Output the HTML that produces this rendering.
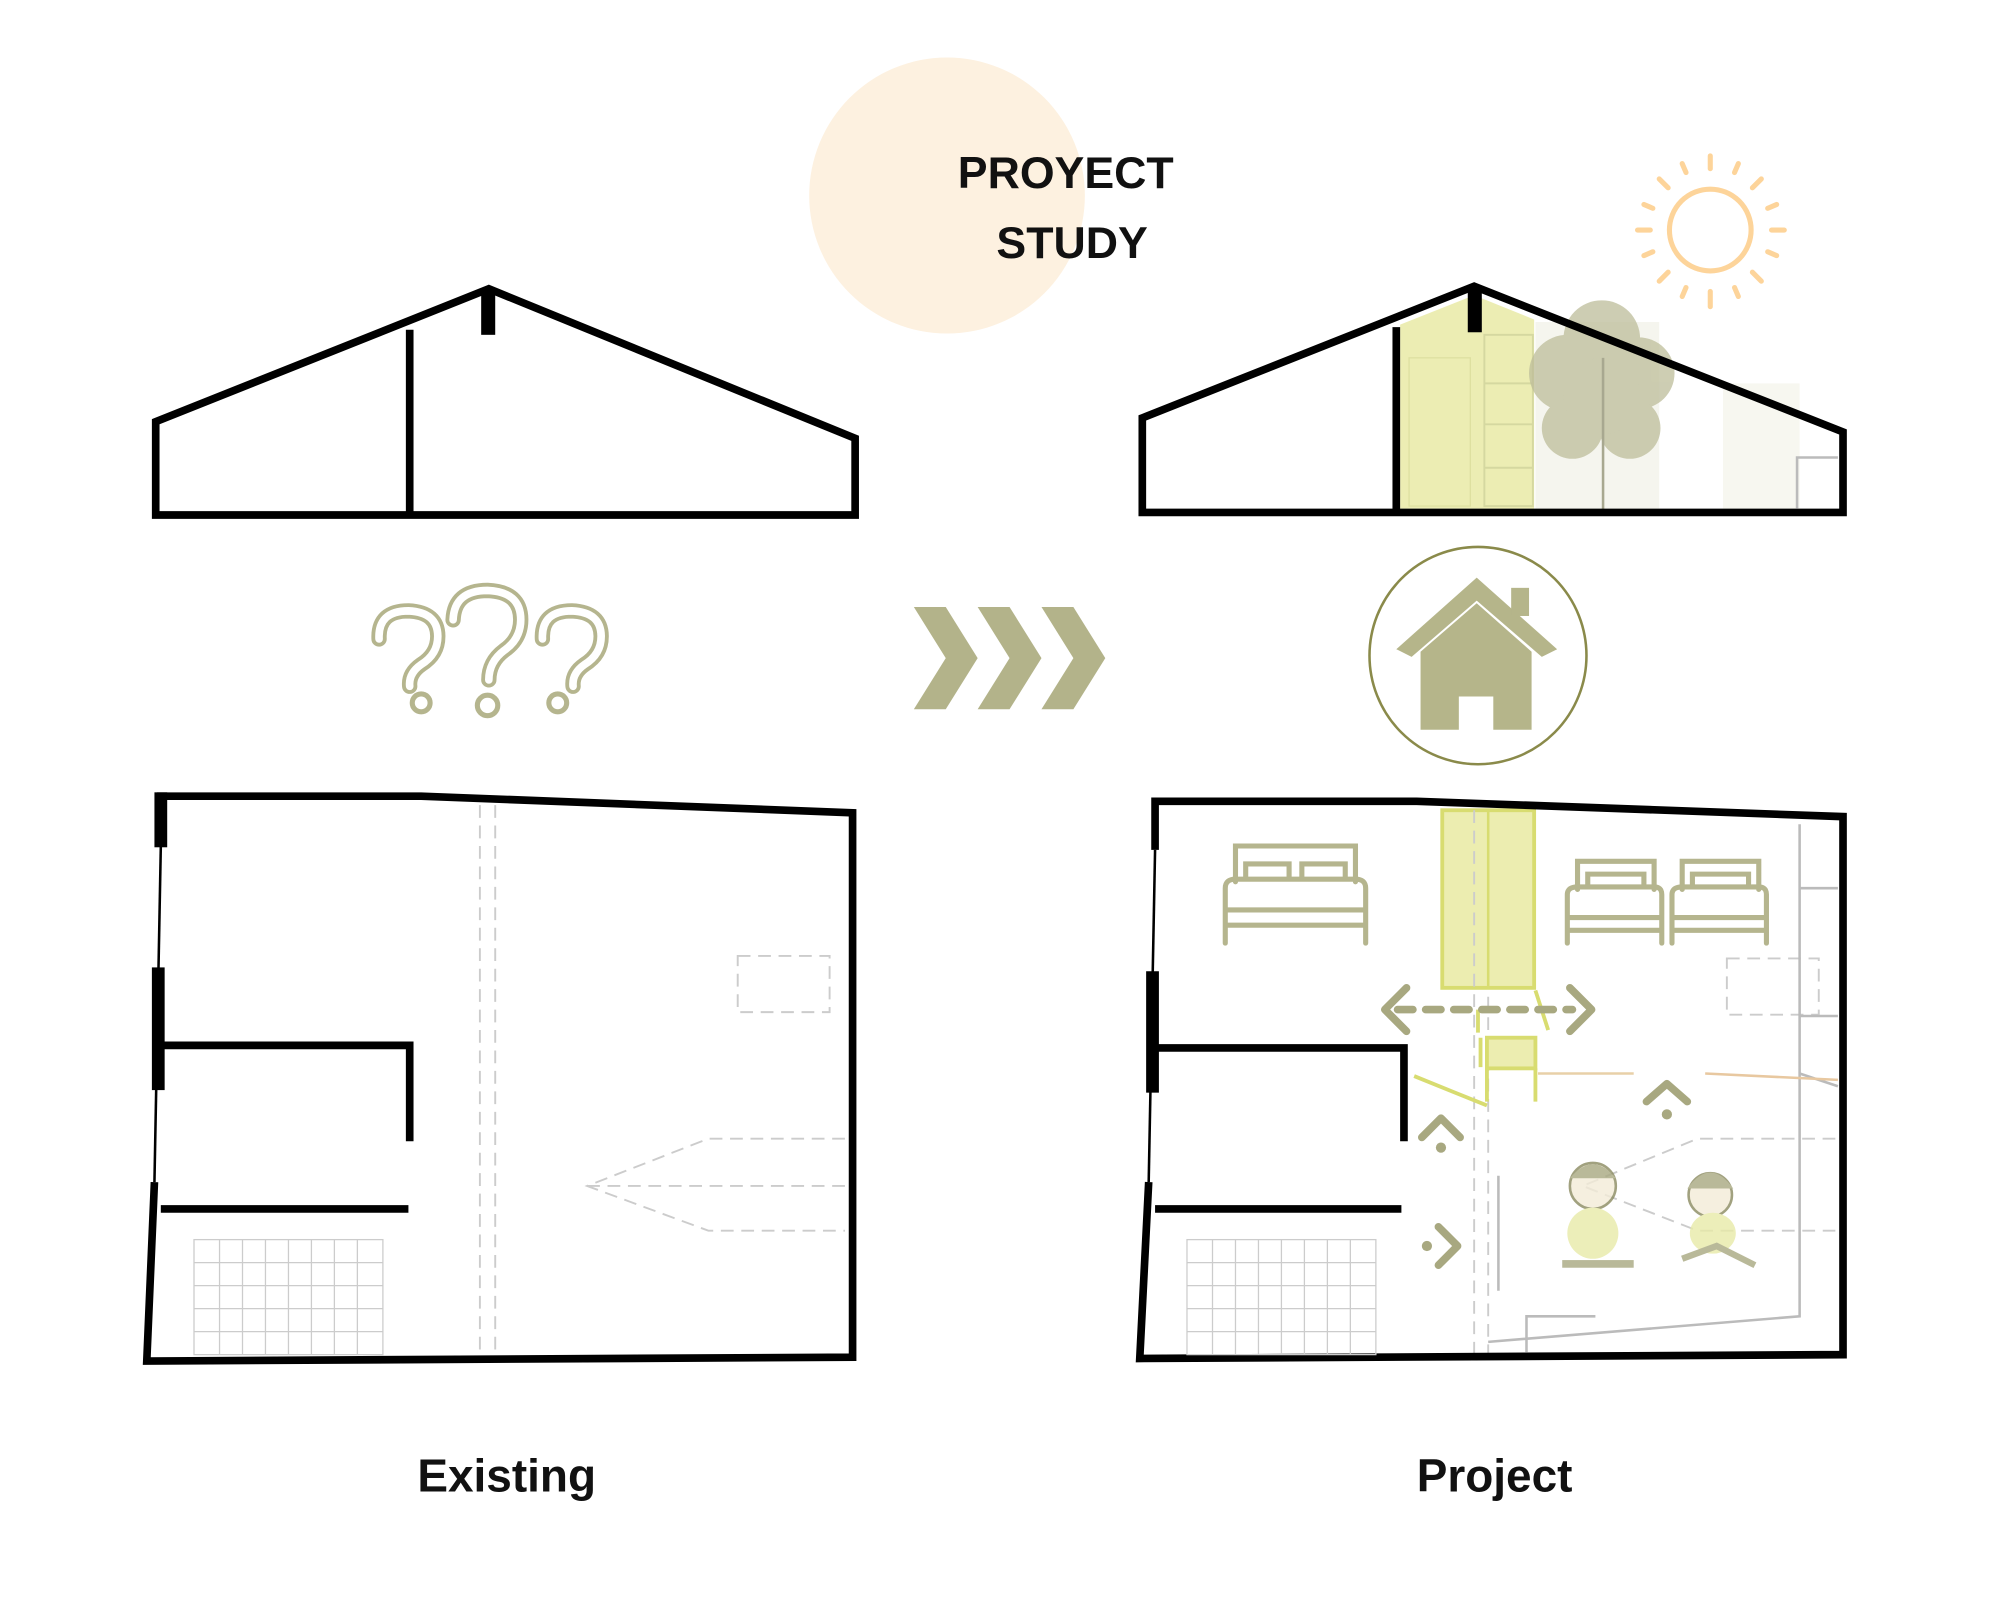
<!DOCTYPE html>
<html><head><meta charset="utf-8"><style>
html,body{margin:0;padding:0;background:#fff;}
svg{display:block;}
text{font-family:"Liberation Sans",sans-serif;font-weight:bold;}
</style></head><body>
<svg width="2000" height="1600" viewBox="0 0 1567 1252" preserveAspectRatio="none" xmlns="http://www.w3.org/2000/svg">
<rect width="1567" height="1252" fill="#fff"/>
<circle cx="742" cy="153" r="108" fill="#fdf1e0"/>
<text x="835" y="147" font-size="35" text-anchor="middle" fill="#111">PROYECT</text>
<text x="840" y="202" font-size="35" text-anchor="middle" fill="#111">STUDY</text>

<!-- Sun -->
<g stroke="#fdd49a" stroke-width="4" fill="none" stroke-linecap="round">
<circle cx="1340" cy="180" r="32"/>
<line x1="1340" y1="122" x2="1340" y2="132"/><line x1="1340" y1="228" x2="1340" y2="240"/>
<line x1="1283" y1="180" x2="1293" y2="180"/><line x1="1388" y1="180" x2="1398" y2="180"/>
<line x1="1300" y1="140" x2="1307" y2="147"/><line x1="1373" y1="213" x2="1380" y2="220"/>
<line x1="1380" y1="140" x2="1373" y2="147"/><line x1="1300" y1="220" x2="1307" y2="213"/>
<line x1="1318" y1="128" x2="1321" y2="135"/><line x1="1362" y1="128" x2="1359" y2="135"/>
<line x1="1288" y1="160" x2="1295" y2="163"/><line x1="1392" y1="160" x2="1385" y2="163"/>
<line x1="1288" y1="200" x2="1295" y2="197"/><line x1="1392" y1="200" x2="1385" y2="197"/>
<line x1="1318" y1="232" x2="1321" y2="225"/><line x1="1362" y1="232" x2="1359" y2="225"/>
</g>

<!-- Left section -->
<path d="M122,330 L383,226 L670,343 L670,403 L122,403 Z" fill="none" stroke="#000" stroke-width="6"/>
<line x1="321" y1="258" x2="321" y2="403" stroke="#000" stroke-width="6"/>
<rect x="377" y="228" width="11" height="34" fill="#000"/>

<!-- Right section -->
<path d="M1097,254 L1155,231 L1202,250 L1202,398 L1097,398 Z" fill="#ecedb3"/>
<rect x="1104" y="280" width="48" height="116" fill="none" stroke="#dde0a0" stroke-width="1"/>
<g stroke="#d5d8a0" stroke-width="1.5" fill="none">
<rect x="1163" y="262" width="38" height="134"/>
<line x1="1163" y1="300" x2="1201" y2="300"/><line x1="1163" y1="332" x2="1201" y2="332"/><line x1="1163" y1="366" x2="1201" y2="366"/>
</g>
<rect x="1203" y="252" width="97" height="146" fill="#f5f5ee"/>
<rect x="1350" y="300" width="60" height="98" fill="#f7f7f0"/>
<g fill="#bdbd9a" opacity="0.75">
<circle cx="1255" cy="265" r="30"/><circle cx="1228" cy="292" r="30"/><circle cx="1284" cy="292" r="28"/>
<circle cx="1232" cy="335" r="24"/><circle cx="1277" cy="335" r="24"/><circle cx="1255" cy="310" r="30"/>
</g>
<line x1="1256" y1="280" x2="1256" y2="400" stroke="#a8a890" stroke-width="2"/>
<path d="M895,327 L1155,224 L1444,338 L1444,401 L895,401 Z" fill="none" stroke="#000" stroke-width="6"/>
<line x1="1094" y1="256" x2="1094" y2="401" stroke="#000" stroke-width="6"/>
<rect x="1150" y="226" width="11" height="34" fill="#000"/>
<path d="M1408,398 L1408,358 L1440,358" fill="none" stroke="#bbb" stroke-width="2"/>

<!-- Question marks -->
<g fill="none" stroke-linecap="round" stroke-linejoin="round">
<g stroke="#b5b58e" stroke-width="12">
<path d="M297,500 Q296,478 320,478 Q343,479 343,498 Q343,512 330,520 Q320,527 321,537"/>
<path d="M355,485 Q356,462 382,462 Q408,463 408,485 Q408,500 395,509 Q383,518 383,532"/>
<path d="M425,500 Q424,478 448,478 Q471,479 471,498 Q471,512 458,520 Q448,527 449,537"/>
</g>
<g stroke="#fff" stroke-width="6">
<path d="M297,500 Q296,478 320,478 Q343,479 343,498 Q343,512 330,520 Q320,527 321,537"/>
<path d="M355,485 Q356,462 382,462 Q408,463 408,485 Q408,500 395,509 Q383,518 383,532"/>
<path d="M425,500 Q424,478 448,478 Q471,479 471,498 Q471,512 458,520 Q448,527 449,537"/>
</g>
<g stroke="#b5b58e" stroke-width="4">
<circle cx="330" cy="550" r="7"/><circle cx="382" cy="552" r="8"/><circle cx="437" cy="550" r="7"/>
</g>
</g>

<!-- Chevrons -->
<g fill="#b3b38a">
<polygon points="716,475 741,475 766,515 741,555 716,555 741,515"/>
<polygon points="766,475 791,475 816,515 791,555 766,555 791,515"/>
<polygon points="816,475 841,475 866,515 841,555 816,555 841,515"/>
</g>

<!-- House icon -->
<circle cx="1158" cy="513" r="85" fill="none" stroke="#8a8a4a" stroke-width="2"/>
<g fill="#b5b58a">
<polygon points="1157,452 1220,508 1208,514 1157,470 1106,514 1094,508"/>
<rect x="1184" y="460" width="14" height="22"/>
<path d="M1113,510 L1157,472 L1200,510 L1200,571 L1170,571 L1170,545 L1143,545 L1143,571 L1113,571 Z"/>
</g>

<!-- Left plan -->
<g stroke="#000" stroke-width="6" fill="none">
<path d="M126,662 L126,623 L330,623 L668,636 L668,1062 L115,1065 L121,925"/>
<path d="M126,818 L321,818 L321,893"/>
<line x1="126" y1="946" x2="320" y2="946"/>
</g>
<line x1="126" y1="662" x2="121" y2="925" stroke="#000" stroke-width="2"/>
<rect x="119" y="757" width="10" height="96" fill="#000"/>
<rect x="121" y="620" width="10" height="43" fill="#000"/>
<g stroke="#ccc" stroke-width="1.5" stroke-dasharray="10,6" fill="none">
<line x1="376" y1="630" x2="376" y2="1060"/><line x1="388" y1="630" x2="388" y2="1060"/>
<rect x="578" y="748" width="72" height="44"/>
<path d="M662,891 L555,891 L460,928 L555,963 L662,963"/>
<line x1="460" y1="928" x2="662" y2="928"/>
</g>
<g stroke="#ccc" stroke-width="1" fill="none">
<rect x="152" y="970" width="148" height="90"/>
<path d="M152,988 H300 M152,1006 H300 M152,1024 H300 M152,1042 H300 M172,970 V1060 M190,970 V1060 M208,970 V1060 M226,970 V1060 M244,970 V1060 M262,970 V1060 M280,970 V1060"/>
</g>

<!-- Right plan -->
<rect x="1130" y="634" width="72" height="139" fill="#ecedb0" stroke="#d8dc70" stroke-width="3"/>
<line x1="1166" y1="634" x2="1166" y2="773" stroke="#d8dc70" stroke-width="2"/>
<g stroke="#ccc" stroke-width="1.5" stroke-dasharray="10,6" fill="none">
<line x1="1155" y1="634" x2="1155" y2="1060"/><line x1="1166" y1="780" x2="1166" y2="1060"/>
<rect x="1353" y="750" width="72" height="44"/>
<path d="M1438,891 L1330,891 L1240,928 L1330,963 L1438,963"/>
</g>
<g stroke="#bbb" stroke-width="2" fill="none">
<path d="M1196,1058 L1196,1030 L1250,1030"/>
<path d="M1166,1050 L1410,1030 L1410,645"/>
<path d="M1410,695 H1440 M1410,795 H1440 M1410,840 L1440,850"/>
<line x1="1174" y1="920" x2="1174" y2="1010"/>
</g>
<line x1="1205" y1="840" x2="1280" y2="840" stroke="#e8d0a8" stroke-width="2"/>
<line x1="1336" y1="840" x2="1440" y2="845" stroke="#e8c8a0" stroke-width="2"/>
<g stroke="#d8dc70" stroke-width="3" fill="none">
<rect x="1165" y="812" width="38" height="24" fill="#ecedb0"/>
<path d="M1160,812 L1160,835 M1203,836 L1203,862 M1165,836 L1165,862"/>
<path d="M1108,842 L1140,855 L1165,865"/>
<path d="M1203,775 L1213,806 M1158,790 L1158,808"/>
</g>
<g stroke="#000" stroke-width="6" fill="none">
<path d="M905,665 L905,627 L1110,627 L1444,639 L1444,1060 L893,1063 L900,925"/>
<path d="M905,820 L1100,820 L1100,893"/>
<line x1="905" y1="946" x2="1098" y2="946"/>
</g>
<line x1="905" y1="665" x2="900" y2="925" stroke="#000" stroke-width="2"/>
<rect x="898" y="760" width="10" height="95" fill="#000"/>
<g stroke="#ccc" stroke-width="1" fill="none">
<rect x="930" y="970" width="148" height="90"/>
<path d="M930,988 H1078 M930,1006 H1078 M930,1024 H1078 M930,1042 H1078 M950,970 V1060 M968,970 V1060 M986,970 V1060 M1004,970 V1060 M1022,970 V1060 M1040,970 V1060 M1058,970 V1060"/>
</g>
<!-- beds -->
<g stroke="#b5b58e" stroke-width="4" fill="none" stroke-linecap="round">
<path d="M968,690 V662 H1062 V690 M976,688 V676 H1010 V688 M1020,688 V676 H1054 V688 M960,738 V695 Q960,688 968,688 H1062 Q1070,688 1070,695 V738 M960,712 H1070 M960,724 H1070"/>
<path d="M1236,696 V674 H1296 V696 M1244,694 V684 H1288 V694 M1228,738 V700 Q1228,694 1236,694 H1296 Q1302,694 1302,700 V738 M1228,718 H1302 M1228,728 H1302"/>
<path d="M1318,696 V674 H1378 V696 M1326,694 V684 H1370 V694 M1310,738 V700 Q1310,694 1318,694 H1378 Q1384,694 1384,700 V738 M1310,718 H1384 M1310,728 H1384"/>
</g>
<!-- dashed double arrow -->
<g stroke="#a8a880" stroke-width="6" fill="none" stroke-linecap="round" stroke-linejoin="round">
<line x1="1095" y1="790" x2="1232" y2="790" stroke-dasharray="12,10"/>
<path d="M1102,773 L1085,790 L1102,807"/>
<path d="M1230,773 L1247,790 L1230,807"/>
<path d="M1114,890 L1129,875 L1144,890"/>
<path d="M1290,862 L1306,848 L1322,862"/>
<path d="M1127,960 L1142,975 L1127,990"/>
</g>
<g fill="#a8a880"><circle cx="1129" cy="898" r="4"/><circle cx="1306" cy="872" r="4"/><circle cx="1118" cy="975" r="4"/></g>
<!-- kids -->
<g opacity="0.8">
<circle cx="1248" cy="928" r="18" fill="#f3ecd8" stroke="#8a8a60" stroke-width="2"/>
<path d="M1230,922 Q1248,900 1266,922" fill="#a8a880"/>
<ellipse cx="1248" cy="965" rx="20" ry="20" fill="#e8eaa8"/>
<rect x="1224" y="986" width="56" height="6" fill="#a8a880"/>
<circle cx="1340" cy="935" r="17" fill="#f3ecd8" stroke="#8a8a60" stroke-width="2"/>
<path d="M1322,930 Q1340,905 1358,930" fill="#a8a880"/>
<ellipse cx="1342" cy="965" rx="18" ry="16" fill="#e8eaa8"/>
<path d="M1318,985 L1345,975 L1375,990" stroke="#a8a880" stroke-width="5" fill="none"/>
</g>

<text x="397" y="1167" font-size="36" text-anchor="middle" fill="#111">Existing</text>
<text x="1171" y="1167" font-size="36" text-anchor="middle" fill="#111">Project</text>
</svg>
</body></html>
